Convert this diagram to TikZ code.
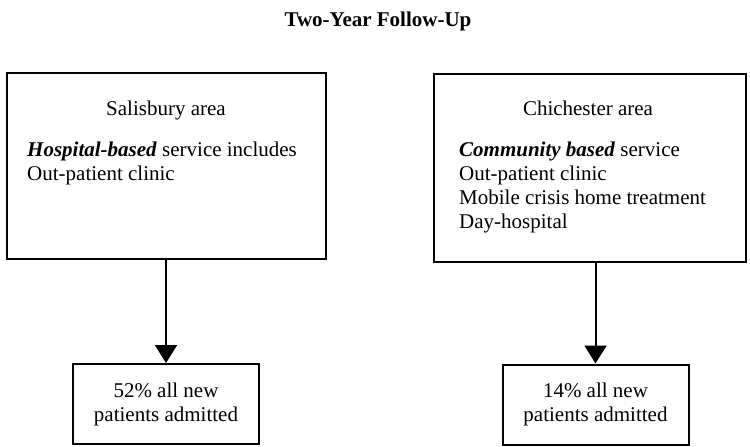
\documentclass[tikz,border=0pt]{standalone}
\usepackage{fontspec}
\setmainfont{Liberation Serif}
\usetikzlibrary{arrows.meta}
\begin{document}
\begin{tikzpicture}[x=1pt,y=-1pt,
  txt/.style={font=\fontsize{21}{24}\selectfont, inner sep=0pt},
  areabox/.style={draw, line width=2pt, inner sep=0pt},
  resultbox/.style={draw, line width=2pt, inner sep=0pt, minimum width=186pt, minimum height=80pt,
    align=center, font=\fontsize{21}{24}\selectfont},
  flow/.style={line width=2pt, -{Triangle[width=22pt,length=18pt]}}]
  \useasboundingbox (0,0) rectangle (750,447);

  % heading
  \node[txt, font=\fontsize{21}{24}\selectfont\bfseries, anchor=base] (title) at (378,27) {Two-Year Follow-Up};

  % the two service areas
  \node[areabox, minimum width=319pt, minimum height=186pt] (salis) at (166.5,166) {};
  \node[areabox, minimum width=312pt, minimum height=188pt] (chich) at (590,168) {};

  \node[txt, anchor=base] (salisname) at (166,115) {Salisbury area};
  \node[txt, anchor=north west, align=left] (salislist) at (27,142)
    {\textbf{\textit{Hospital-based}} service includes\\Out-patient clinic};

  \node[txt, anchor=base] (chichname) at (588,115) {Chichester area};
  \node[txt, anchor=north west, align=left] (chichlist) at (459,142)
    {\textbf{\textit{Community based}} service\\Out-patient clinic\\Mobile crisis home treatment\\Day-hospital};

  % admission outcomes
  \node[resultbox] (salisout) at (166,404) {52\% all new\\patients admitted};
  \node[resultbox] (chichout) at (595.5,404.5) {14\% all new\\patients admitted};

  \draw[flow] (salis.south -| salisout.north) -- (salisout.north);
  \draw[flow] (chich.south -| chichout.north) -- (chichout.north);
\end{tikzpicture}
\end{document}
